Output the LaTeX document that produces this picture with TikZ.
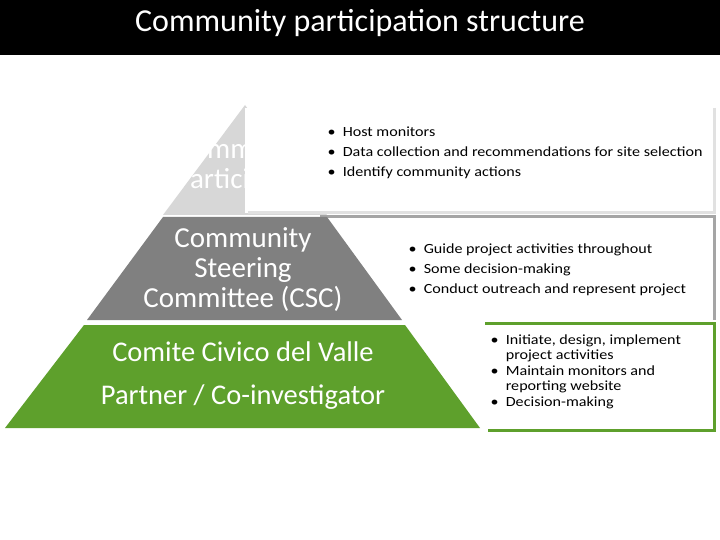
\documentclass[tikz,border=0pt]{standalone}
\usepackage{fontspec}
\setmainfont{Carlito}
\newfontfamily\narrowfont[FakeStretch=1.15]{Carlito}
\definecolor{grn}{RGB}{94,160,44}
\definecolor{lgr}{RGB}{215,215,215}
\definecolor{mgr}{RGB}{128,128,128}
\definecolor{sh1}{RGB}{225,225,225}
\definecolor{sh2}{RGB}{165,165,165}
\begin{document}
\begin{tikzpicture}[x=1pt,y=-1pt,
  lbl/.style={text=white,align=center,font=\fontsize{29}{30}\selectfont},
  bul/.style={anchor=north west,align=left,font=\narrowfont\fontsize{14}{20}\selectfont,text=black},
  bul2/.style={anchor=north west,align=left,font=\narrowfont\fontsize{14}{15.5}\selectfont,text=black}]
\useasboundingbox (0,0) rectangle (720,540);
\fill[white] (0,0) rectangle (720,540);
\fill[black] (0,0) rectangle (720,55);
\node[text=white,font=\fontsize{32}{34}\selectfont] (title) at (360,23) {Community participation structure};
% top tier
\fill[lgr] (245,105) -- (327,215) -- (163,215) -- cycle;
\node[lbl] (t1) at (245,166) {Community\\Participants};
\fill[white] (245,108) rectangle (714,213);
\draw[sh1,line width=3pt] (714,108) -- (714,213) -- (248,213);
\node[bul] (b1) at (324,123) {\textbullet\ \ Host monitors\\\textbullet\ \ Data collection and recommendations for site selection\\\textbullet\ \ Identify community actions};
% middle tier
\fill[white] (320,217) rectangle (714,320);
\draw[sh2,line width=3pt] (320,217) -- (714,217) -- (714,320);
\fill[mgr] (163,217) -- (327,217) -- (402,320) -- (87,320) -- cycle;
\node[lbl] (t2) at (243,270) {Community\\Steering\\Committee (CSC)};
\node[bul] (b2) at (405,240) {\textbullet\ \ Guide project activities throughout\\\textbullet\ \ Some decision-making\\\textbullet\ \ Conduct outreach and represent project};
% bottom tier
\fill[white] (485,323) rectangle (714,430);
\draw[grn,line width=3pt] (485,323) -- (714,323) -- (714,430) -- (488,430);
\fill[grn] (84,325) -- (405,325) -- (480,428) -- (5,428) -- cycle;
\node[lbl,font=\fontsize{28.5}{43}\selectfont] (t3) at (243,376) {Comite Civico del Valle\\Partner / Co-investigator};
\node[bul2] (b3) at (487,331) {\textbullet\ \ Initiate, design, implement\\\phantom{\textbullet\ \ }project activities\\\textbullet\ \ Maintain monitors and\\\phantom{\textbullet\ \ }reporting website\\\textbullet\ \ Decision-making};
\end{tikzpicture}
\end{document}
